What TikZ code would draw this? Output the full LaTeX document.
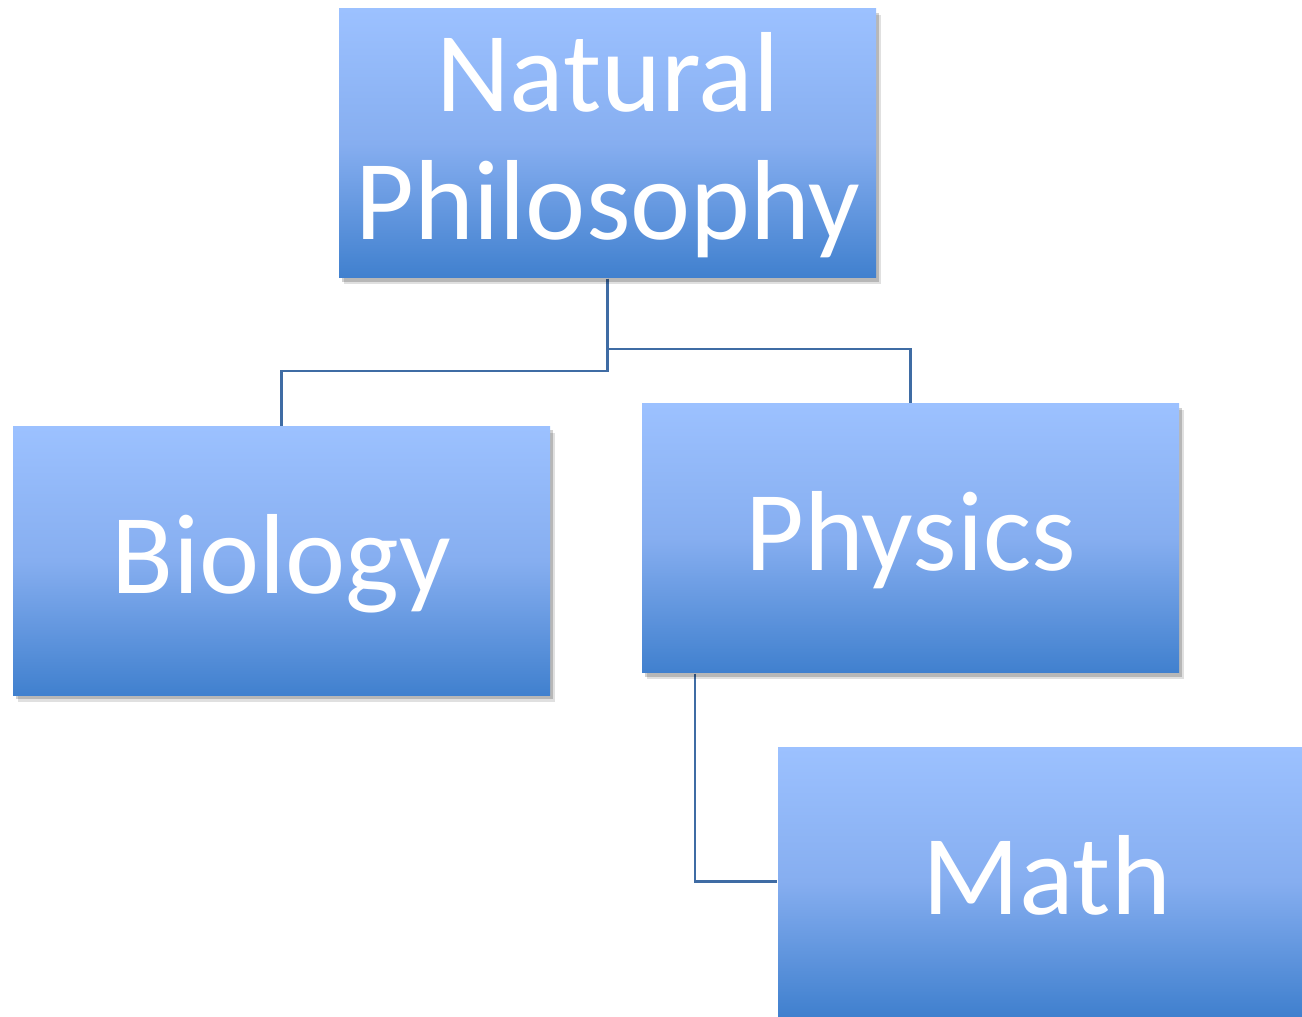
\documentclass[tikz,border=0pt]{standalone}
\usepackage{fontspec}
\setmainfont{Carlito}
\usetikzlibrary{shadows}
\definecolor{boxtop}{HTML}{9CC1FF}
\definecolor{boxmid}{HTML}{86AEF0}
\definecolor{boxbot}{HTML}{4080CE}
\definecolor{linkcol}{HTML}{3F6CA4}
\tikzset{
  topicbox/.style={rectangle, minimum width=5.37cm, minimum height=2.69cm, inner sep=0pt,
    top color=boxtop, bottom color=boxbot, middle color=boxmid, draw=none,
    drop shadow={shadow xshift=0.05cm, shadow yshift=-0.065cm, opacity=0.12, fill=black},
    drop shadow={shadow xshift=0.03cm, shadow yshift=-0.04cm, opacity=0.18, fill=black}},
  topictext/.style={anchor=base, inner sep=0pt, text=white, font=\fontsize{32.4}{36.4}\selectfont},
  link/.style={draw=linkcol, line width=0.6pt}
}
\begin{document}
\begin{tikzpicture}
\useasboundingbox (0,0) rectangle (13.02,-10.17);
\fill[white] (0,0) rectangle (13.02,-10.17);
\path (6.075,-1.435) coordinate (npc);
\path (2.815,-5.61) coordinate (bioc);
\path (9.105,-5.385) coordinate (phyc);
\path (10.465,-8.815) coordinate (mathc);
% invisible anchors for connectors
\node[minimum width=5.37cm, minimum height=2.69cm, inner sep=0pt] (np) at (npc) {};
\node[minimum width=5.37cm, minimum height=2.69cm, inner sep=0pt] (bio) at (bioc) {};
\node[minimum width=5.37cm, minimum height=2.69cm, inner sep=0pt] (phy) at (phyc) {};
\node[minimum width=5.37cm, minimum height=2.69cm, inner sep=0pt] (math) at (mathc) {};
% connectors
\draw[link] (np.south) -- ++(0,-0.92) -| (bio.north);
\draw[link] (np.south) -- ++(0,-0.70) -| (phy.north);
\draw[link] ([xshift=0.54cm]phy.south west) |- (math.west);
% visible boxes
\node[topicbox] (npbox) at (np.center) {};
\node[topicbox] (biobox) at (bio.center) {};
\node[topicbox] (phybox) at (phy.center) {};
\node[topicbox] (mathbox) at (math.center) {};
% texts
\node[topictext] (npt1) at ([yshift=0.315cm]npbox.center) {Natural};
\node[topictext] (npt2) at ([yshift=-0.965cm]npbox.center) {Philosophy};
\node[topictext] (biot) at ([yshift=-0.33cm]biobox.center) {Biology};
\node[topictext] (phyt) at ([yshift=-0.325cm]phybox.center) {Physics};
\node[topictext] (matht) at ([yshift=-0.325cm]mathbox.center) {Math};
\end{tikzpicture}
\end{document}
